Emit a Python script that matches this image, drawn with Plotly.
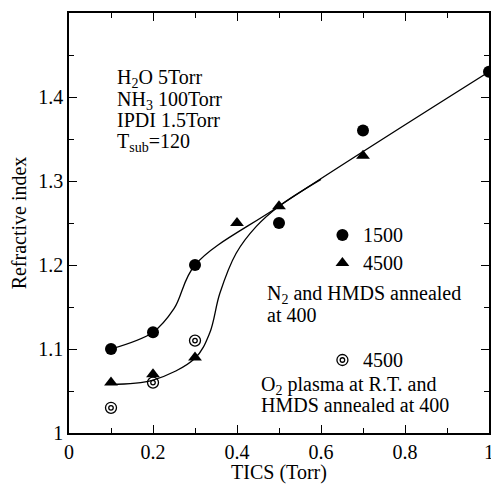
import plotly.graph_objects as go

# ---- data ----
tics_1500 = [0.1, 0.2, 0.3, 0.5, 0.7, 1.0]
n_1500 = [1.10, 1.12, 1.20, 1.25, 1.36, 1.43]

tics_4500 = [0.1, 0.2, 0.3, 0.4, 0.5, 0.7]
n_4500 = [1.06, 1.07, 1.09, 1.25, 1.27, 1.33]

tics_o2 = [0.1, 0.2, 0.3]
n_o2 = [1.03, 1.06, 1.11]

# hand-drawn guide curves
upper_x = [0.1, 0.2, 0.25, 0.3, 0.5, 1.0]
upper_y = [1.100, 1.120, 1.148, 1.200, 1.270, 1.430]
lower_x = [0.1, 0.2, 0.3, 0.335, 0.359, 0.398, 0.446, 0.5, 0.6]
lower_y = [1.058, 1.063, 1.089, 1.119, 1.166, 1.214, 1.246, 1.270, 1.302]

x_tickvals = [0, 0.2, 0.4, 0.6, 0.8, 1.0]
x_ticktext = ["0", "0.2", "0.4", "0.6", "0.8", "1"]
y_tickvals = [1.0, 1.1, 1.2, 1.3, 1.4]
y_ticktext = ["1", "1.1", "1.2", "1.3", "1.4"]

FONT = "Liberation Serif"
FS = 20

fig = go.Figure()
line_style = dict(color="black", width=1.3, shape="spline", smoothing=1.0)
fig.add_trace(go.Scatter(x=upper_x, y=upper_y, mode="lines", line=line_style, hoverinfo="skip"))
fig.add_trace(go.Scatter(x=lower_x, y=lower_y, mode="lines", line=line_style, hoverinfo="skip"))

fig.add_trace(go.Scatter(x=tics_1500, y=n_1500, mode="markers", cliponaxis=False,
                         marker=dict(symbol="circle", size=12, color="black")))
fig.add_trace(go.Scatter(x=tics_4500, y=n_4500, mode="markers",
                         marker=dict(symbol="triangle-up", size=12, color="black")))
fig.add_trace(go.Scatter(x=tics_o2, y=n_o2, mode="markers",
                         marker=dict(symbol="circle-open", size=11, color="black", line=dict(width=1.3))))
fig.add_trace(go.Scatter(x=tics_o2, y=n_o2, mode="markers",
                         marker=dict(symbol="circle-open", size=4.5, color="black", line=dict(width=1.3))))

# in-plot key markers
key_x = 0.651
fig.add_trace(go.Scatter(x=[key_x], y=[1.2357], mode="markers",
                         marker=dict(symbol="circle", size=12, color="black")))
fig.add_trace(go.Scatter(x=[key_x], y=[1.2024], mode="markers",
                         marker=dict(symbol="triangle-up", size=12, color="black")))
fig.add_trace(go.Scatter(x=[key_x], y=[1.0869], mode="markers",
                         marker=dict(symbol="circle-open", size=11, color="black", line=dict(width=1.3))))
fig.add_trace(go.Scatter(x=[key_x], y=[1.0869], mode="markers",
                         marker=dict(symbol="circle-open", size=4.5, color="black", line=dict(width=1.3))))

texts = [
    (0.109, 1.4226, "H<sub>2</sub>O 5Torr"),
    (0.109, 1.3964, "NH<sub>3</sub> 100Torr"),
    (0.109, 1.3726, "IPDI 1.5Torr"),
    (0.109, 1.3464, "T<sub>sub</sub>=120"),
    (0.696, 1.2357, "1500"),
    (0.696, 1.2024, "4500"),
    (0.4656, 1.1643, "N<sub>2</sub> and HMDS annealed"),
    (0.4656, 1.1405, "at 400"),
    (0.696, 1.0869, "4500"),
    (0.4513, 1.0571, "O<sub>2</sub> plasma at R.T. and"),
    (0.4513, 1.0333, "HMDS annealed at 400"),
]
for tx, ty, t in texts:
    fig.add_annotation(x=tx, y=ty, text=t, showarrow=False, xanchor="left", yanchor="middle",
                       font=dict(family=FONT, size=FS, color="black"))

axis_common = dict(
    showgrid=False, zeroline=False, showline=True, linecolor="black", linewidth=1.5,
    mirror="allticks", ticks="inside", ticklen=8, tickwidth=1.3, tickcolor="black",
    tickfont=dict(family=FONT, size=FS, color="black"), ticklabeloverflow="allow",
    automargin=False,
)
fig.update_xaxes(range=[0, 1], tickvals=x_tickvals, ticktext=x_ticktext,
                 minor=dict(ticks="inside", ticklen=5, tickwidth=1.3, tickcolor="black", dtick=0.1, tick0=0),
                 title=dict(text="TICS (Torr)", font=dict(family=FONT, size=FS, color="black"), standoff=2),
                 **axis_common)
fig.update_yaxes(range=[1, 1.5], tickvals=y_tickvals, ticktext=y_ticktext,
                 minor=dict(ticks="inside", ticklen=5, tickwidth=1.3, tickcolor="black", dtick=0.05, tick0=1),
                 title=dict(text="Refractive index", font=dict(family=FONT, size=FS, color="black"), standoff=6),
                 **axis_common)

fig.update_layout(
    width=491, height=484,
    margin=dict(l=69, r=2, t=13, b=51, autoexpand=False),
    paper_bgcolor="white", plot_bgcolor="white",
    showlegend=False,
)

# remove the page's default body margin so the figure fills the window exactly
fig.write_html("out.html", config={"displayModeBar": False},
               post_script="document.body.style.margin='0px';document.body.style.overflow='hidden';")
